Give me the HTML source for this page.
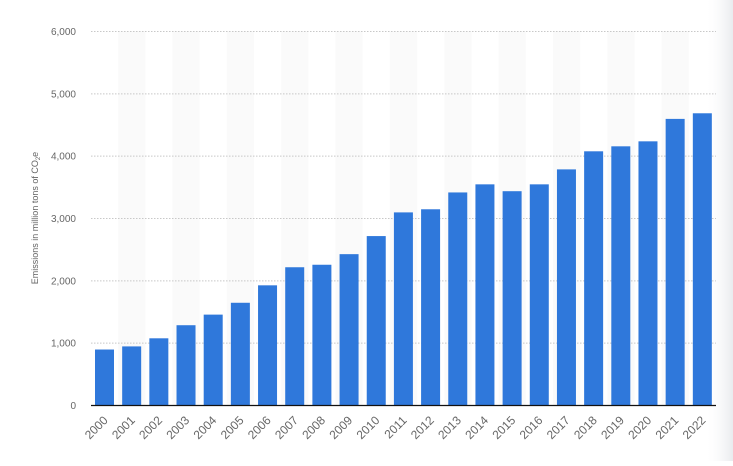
<!DOCTYPE html>
<html><head><meta charset="utf-8"><style>
body{margin:0;background:#fff;width:733px;height:461px;overflow:hidden;font-family:"Liberation Sans",sans-serif}
</style></head><body>
<svg width="733" height="461" id="c">
<defs><linearGradient id="sh" x1="0" x2="1"><stop offset="0" stop-color="#fff" stop-opacity="0"/><stop offset="1" stop-color="#e9ebee"/></linearGradient></defs>
<rect x="705" y="0" width="28" height="461" fill="url(#sh)"/>
<g id="stripes"></g><g id="grid"></g><g id="bars"></g><g id="xl"></g><g id="yl"></g>
<line x1="91" x2="716" y1="405.5" y2="405.5" stroke="#111" stroke-width="1.3"/>
<text transform="translate(38,218) rotate(-90)" text-anchor="middle" font-size="9" fill="#666">Emissions in million tons of CO<tspan font-size="6" dy="2">2</tspan><tspan dy="-2">e</tspan></text>
</svg>
<script>
const categories=["2000","2001","2002","2003","2004","2005","2006","2007","2008","2009","2010","2011","2012","2013","2014","2015","2016","2017","2018","2019","2020","2021","2022"];
const values=[890,940,1070,1280,1450,1640,1920,2210,2250,2420,2710,3090,3140,3410,3540,3430,3540,3780,4070,4150,4230,4590,4680];
const yTicks=[0,1000,2000,3000,4000,5000,6000];
const yTickLabels=["0","1,000","2,000","3,000","4,000","5,000","6,000"];
const NS="http://www.w3.org/2000/svg";
const x0=91,x1=716,yB=405,yT=31,yMax=6000;
const band=(x1-x0)/categories.length;
const xs=i=>x0+i*band;
const ys=v=>yB-(v/yMax)*(yB-yT);
function mk(t,a,p){const e=document.createElementNS(NS,t);for(const k in a)e.setAttribute(k,a[k]);document.getElementById(p).appendChild(e);return e;}
categories.forEach((c,i)=>{
 if(i%2==1){const s=mk('rect',{x:xs(i),y:yT,width:band,height:yB-yT,fill:'#fafafa'},'stripes');
 
 }
 const b=mk('rect',{x:xs(i)+4,y:ys(values[i]),width:19,height:yB-ys(values[i]),fill:'#2f78db'},'bars');
 
 
 const cx=xs(i)+band/2+4,cy=yB+16;
 const t=mk('text',{x:cx,y:cy,'text-anchor':'end','font-size':12,fill:'#666',transform:`rotate(-45 ${cx} ${cy})`},'xl');
 t.textContent=c;
 
 
});
yTicks.forEach((v,i)=>{
 if(v>0){const g=mk('line',{x1:x0,x2:x1,y1:ys(v)+0.5,y2:ys(v)+0.5,stroke:'#c8c8c8','stroke-dasharray':'1.5,1.5'},'grid');
 
 }
 const t=mk('text',{x:76,y:ys(v)+4,'text-anchor':'end','font-size':10,fill:'#666'},'yl');
 t.textContent=yTickLabels[i];
 
 
});
</script>
</body></html>
